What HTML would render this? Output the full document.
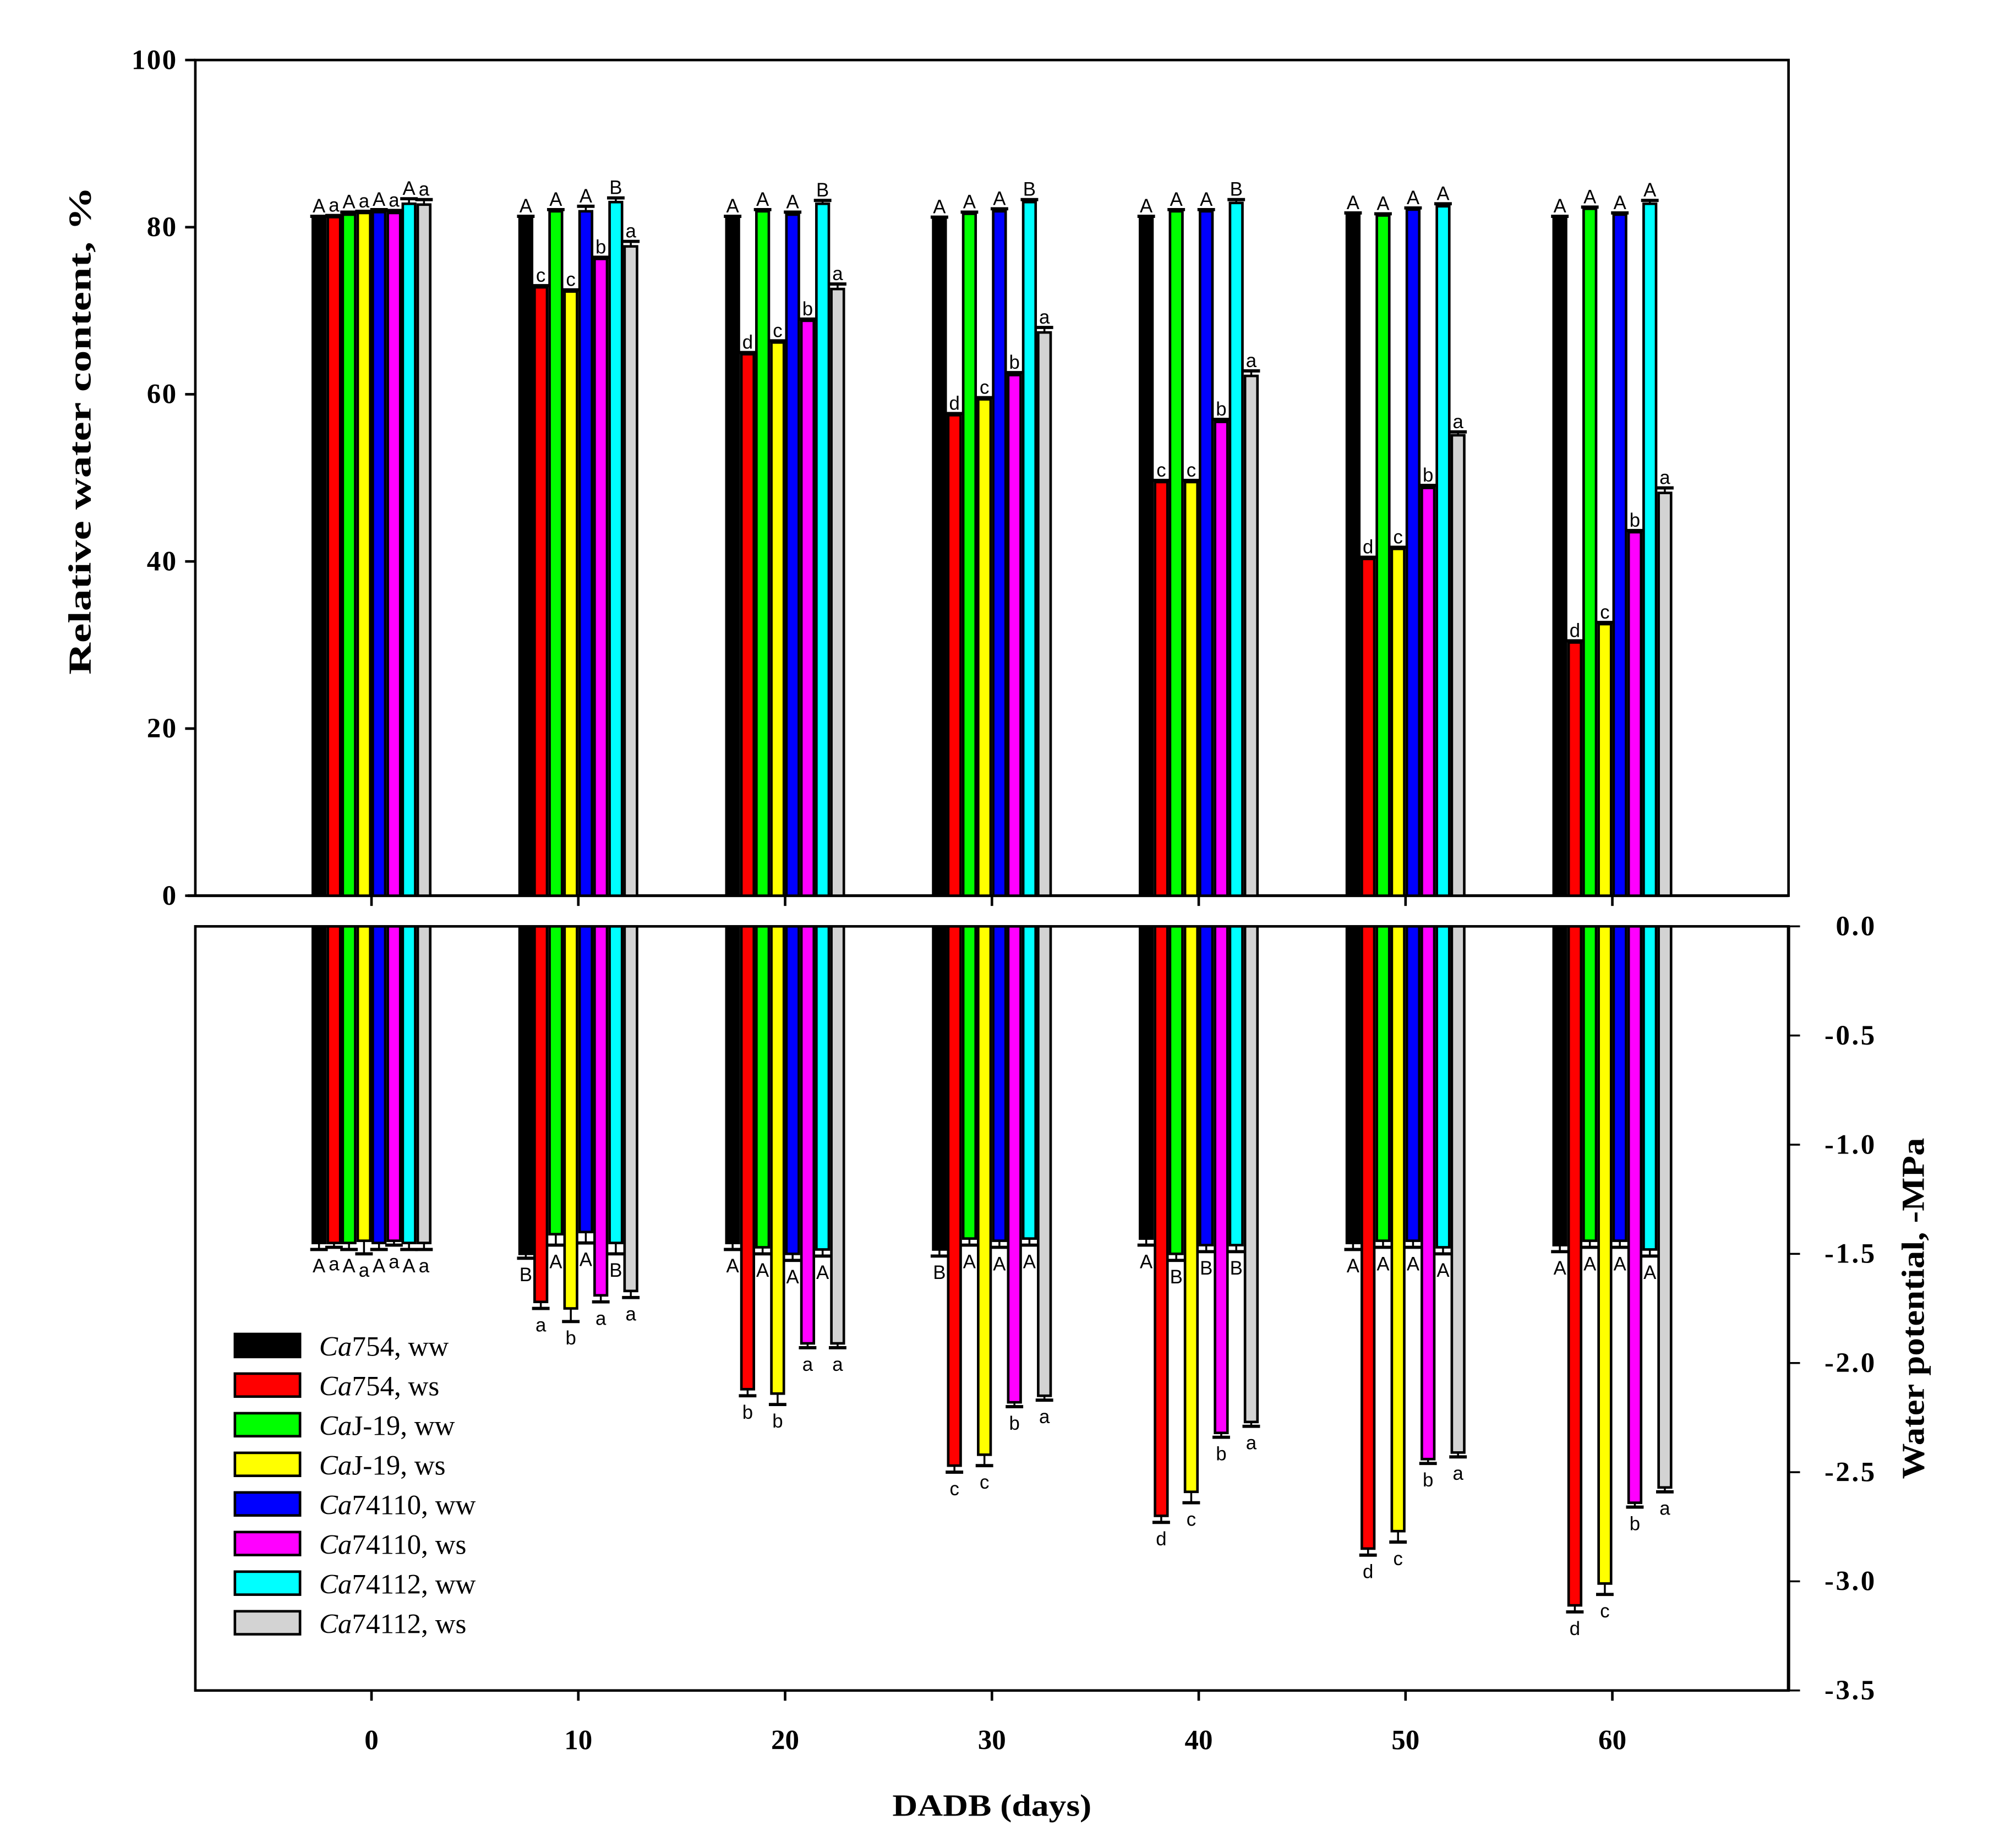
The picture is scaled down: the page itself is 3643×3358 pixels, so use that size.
<!DOCTYPE html>
<html><head><meta charset="utf-8"><style>html,body{margin:0;padding:0;background:#fff}svg{display:block}</style></head>
<body>
<svg id="chart" xmlns="http://www.w3.org/2000/svg" width="3643" height="3358" viewBox="0 0 1553 1431.5" preserveAspectRatio="none">
<rect width="1553" height="1431.5" fill="#fff"/>
<g id="g" transform="translate(151.3,46.5) scale(0.9888,0.9898) translate(-151,-46)"></g>
</svg>
<script>
const days = [0,10,20,30,40,50,60];
const seriesNames = ["Ca754, ww","Ca754, ws","CaJ-19, ww","CaJ-19, ws","Ca74110, ww","Ca74110, ws","Ca74112, ww","Ca74112, ws"];
const colors = ["#000000","#ff0000","#00ff00","#ffff00","#0000ff","#ff00ff","#00ffff","#d3d3d3"];
const rwc = [
 [81.2,81.2,81.5,81.7,81.8,81.7,82.8,82.7],
 [81.2,72.8,81.9,72.3,81.9,76.2,83.0,77.7],
 [81.2,64.8,81.9,66.2,81.5,68.8,82.8,72.6],
 [81.1,57.5,81.6,59.4,81.9,62.3,83.0,67.4],
 [81.2,49.5,81.9,49.5,81.9,56.7,82.9,62.2],
 [81.6,40.3,81.4,41.5,82.1,48.8,82.5,55.1],
 [81.2,30.3,82.2,32.5,81.5,43.5,82.8,48.2]];
const rwcErr = [
 [0.1,0.2,0.3,0.2,0.3,0.3,0.6,0.6],
 [0.1,0.2,0.2,0.2,0.6,0.2,0.5,0.6],
 [0.1,0.2,0.2,0.2,0.3,0.2,0.4,0.6],
 [0.1,0.2,0.2,0.2,0.3,0.3,0.3,0.6],
 [0.1,0.2,0.2,0.2,0.2,0.3,0.4,0.6],
 [0.1,0.2,0.2,0.2,0.2,0.3,0.3,0.4],
 [0.1,0.2,0.2,0.2,0.2,0.2,0.4,0.6]];
const rwcLetters = [
 ["A","a","A","a","A","a","A","a"],
 ["A","c","A","c","A","b","B","a"],
 ["A","d","A","c","A","b","B","a"],
 ["A","d","A","c","A","b","B","a"],
 ["A","c","A","c","A","b","B","a"],
 ["A","d","A","c","A","b","A","a"],
 ["A","d","A","c","A","b","A","a"]];
const wp = [
 [1.45,1.45,1.45,1.44,1.45,1.44,1.45,1.45],
 [1.50,1.72,1.41,1.75,1.40,1.69,1.45,1.67],
 [1.45,2.12,1.47,2.14,1.50,1.91,1.48,1.91],
 [1.48,2.47,1.43,2.42,1.44,2.18,1.43,2.15],
 [1.43,2.70,1.50,2.59,1.46,2.32,1.46,2.27],
 [1.45,2.85,1.44,2.77,1.44,2.44,1.47,2.41],
 [1.46,3.11,1.44,3.01,1.44,2.64,1.48,2.57]];
const wpErr = [
 [0.03,0.02,0.03,0.06,0.03,0.02,0.03,0.03],
 [0.02,0.03,0.05,0.06,0.05,0.03,0.05,0.03],
 [0.03,0.03,0.03,0.05,0.03,0.02,0.03,0.02],
 [0.03,0.03,0.03,0.05,0.03,0.02,0.03,0.02],
 [0.03,0.03,0.03,0.05,0.03,0.02,0.03,0.02],
 [0.03,0.03,0.03,0.05,0.03,0.02,0.03,0.02],
 [0.03,0.03,0.03,0.05,0.03,0.02,0.03,0.02]];
const wpLetters = [
 ["A","a","A","a","A","a","A","a"],
 ["B","a","A","b","A","a","B","a"],
 ["A","b","A","b","A","a","A","a"],
 ["B","c","A","c","A","b","A","a"],
 ["A","d","B","c","B","b","B","a"],
 ["A","d","A","c","A","b","A","a"],
 ["A","d","A","c","A","b","A","a"]];
const rwcTicks = [0,20,40,60,80,100];
const wpTicks = [0.0,-0.5,-1.0,-1.5,-2.0,-2.5,-3.0,-3.5];

const NS="http://www.w3.org/2000/svg";
const G=document.getElementById('g');
function el(tag,attrs,parent){const e=document.createElementNS(NS,tag);for(const k in attrs)e.setAttribute(k,attrs[k]);(parent||G).appendChild(e);return e;}
const xDay=d=>289+d*16.2;
const yR=v=>700-v*6.54;
const yW=v=>724+v*170.86;
const BW=11.75;

let e;
e=el('rect',{x:151,y:46,width:1248,height:654,fill:'none',stroke:'#000','stroke-width':2});


e=el('rect',{x:151,y:724,width:1248,height:598,fill:'none',stroke:'#000','stroke-width':2});


e=el('line',{x1:145,y1:700,x2:1399,y2:700,stroke:'#000','stroke-width':2.2});


e=el('line',{x1:1399,y1:724,x2:1399,y2:1322,stroke:'#000','stroke-width':2.6});



rwcTicks.forEach(t=>{
 el('line',{x1:143,y1:yR(t),x2:151,y2:yR(t),stroke:'#000','stroke-width':2});
 e=el('text',{x:137,y:yR(t)+7,'text-anchor':'end','font-family':'Liberation Serif, serif','font-weight':'bold','font-size':22,'letter-spacing':1});
 e.textContent=t;
 
 
});
wpTicks.forEach(t=>{
 el('line',{x1:1399,y1:yW(-t),x2:1408,y2:yW(-t),stroke:'#000','stroke-width':1.5});
 e=el('text',{x:1468,y:yW(-t)+7,'text-anchor':'end','font-family':'Liberation Serif, serif','font-weight':'bold','font-size':22,'letter-spacing':1.5});
 e.textContent=t.toFixed(1);
 
 
});
days.forEach(d=>{
 el('line',{x1:xDay(d),y1:700,x2:xDay(d),y2:708,stroke:'#000','stroke-width':2});
 el('line',{x1:xDay(d),y1:1322,x2:xDay(d),y2:1330,stroke:'#000','stroke-width':2});
 e=el('text',{x:xDay(d),y:1368,'text-anchor':'middle','font-family':'Liberation Serif, serif','font-weight':'bold','font-size':22});
 e.textContent=d;
 
 
});

days.forEach((d,i)=>{
 for(let s=0;s<8;s++){
  const x=xDay(d)-47+s*BW;
  const cx=x+BW/2;
  const top=yR(rwc[i][s]);
  e=el('rect',{x:x+1,y:top,width:BW-2,height:700-top,fill:colors[s],stroke:'#000','stroke-width':2});
  
  
  const et=yR(rwc[i][s]+rwcErr[i][s]);
  el('line',{x1:cx,y1:top,x2:cx,y2:et,stroke:'#000','stroke-width':1.5});
  el('line',{x1:cx-BW/2-1,y1:et,x2:cx+BW/2+1,y2:et,stroke:'#000','stroke-width':2.5});
  e=el('text',{x:cx,y:et-3,'text-anchor':'middle','font-family':'Liberation Sans, sans-serif','font-size':15});
  e.textContent=rwcLetters[i][s];
  
  
  const bot=yW(wp[i][s]);
  e=el('rect',{x:x+1,y:724,width:BW-2,height:bot-724,fill:colors[s],stroke:'#000','stroke-width':2});
  
  
  const eb=yW(wp[i][s]+wpErr[i][s]);
  el('line',{x1:cx,y1:bot,x2:cx,y2:eb,stroke:'#000','stroke-width':1.5});
  el('line',{x1:cx-BW/2-1,y1:eb,x2:cx+BW/2+1,y2:eb,stroke:'#000','stroke-width':2.5});
  e=el('text',{x:cx,y:eb+18,'text-anchor':'middle','font-family':'Liberation Sans, sans-serif','font-size':15});
  e.textContent=wpLetters[i][s];
  
  
 }
});

seriesNames.forEach((n,s)=>{
 const y=1043+s*31;
 e=el('rect',{x:182,y:y,width:51,height:18,fill:colors[s],stroke:'#000','stroke-width':2});
 
 
 e=el('text',{x:248,y:y+17,'font-family':'Liberation Serif, serif','font-size':22});
 const it=el('tspan',{'font-style':'italic'},e); it.textContent='Ca';
 const rest=el('tspan',{},e); rest.textContent=n.slice(2);
 
 
});

e=el('text',{x:0,y:0,transform:'translate(69,336) rotate(-90)','text-anchor':'middle','font-family':'Liberation Serif, serif','font-weight':'bold','font-size':25,textLength:382,lengthAdjust:'spacingAndGlyphs'});
e.textContent='Relative water content, %';


e=el('text',{x:0,y:0,transform:'translate(1505,1023) rotate(-90)','text-anchor':'middle','font-family':'Liberation Serif, serif','font-weight':'bold','font-size':25,textLength:267,lengthAdjust:'spacingAndGlyphs'});
e.textContent='Water potential, -MPa';


e=el('text',{x:775,y:1420,'text-anchor':'middle','font-family':'Liberation Serif, serif','font-weight':'bold','font-size':24,textLength:156,lengthAdjust:'spacingAndGlyphs'});
e.textContent='DADB (days)';


</script>
</body></html>
